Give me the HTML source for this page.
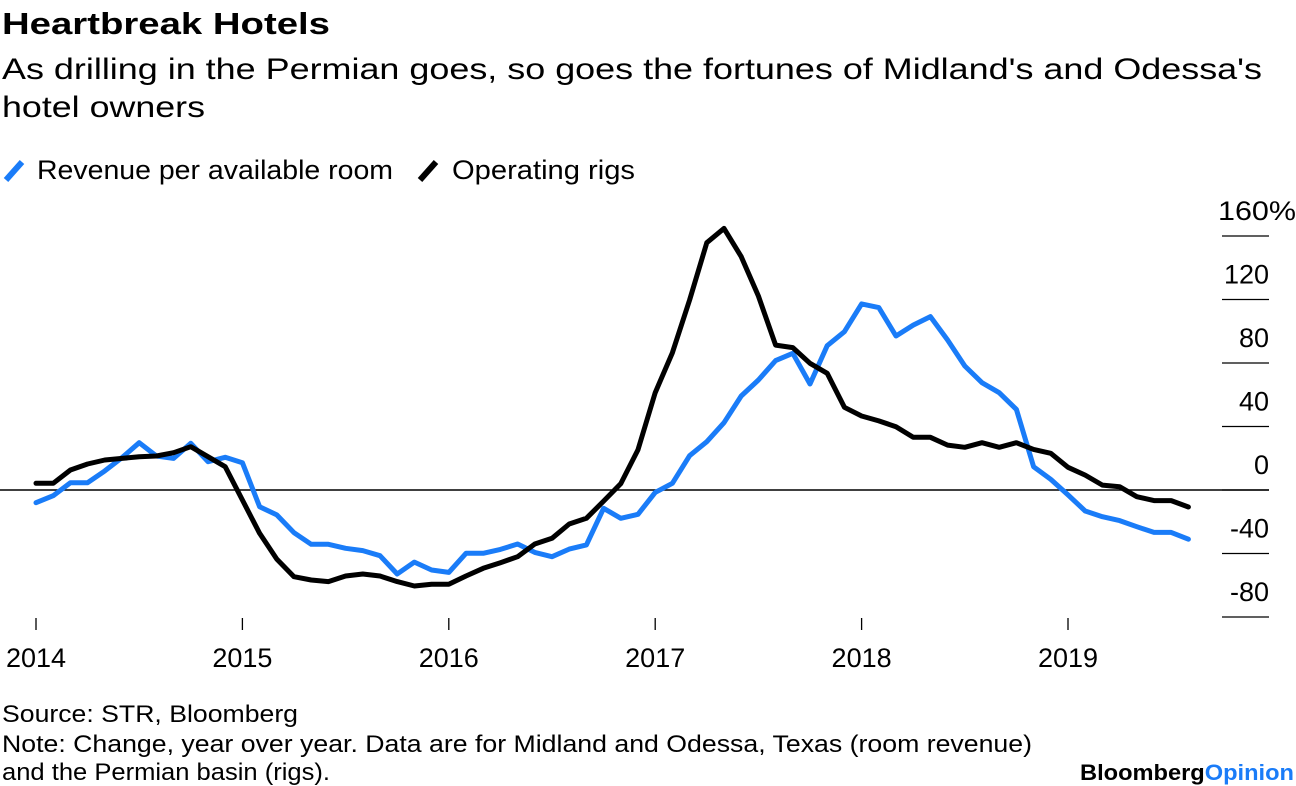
<!DOCTYPE html>
<html><head><meta charset="utf-8">
<style>
body{margin:0;width:1296px;height:786px;background:#fff;overflow:hidden;font-family:"Liberation Sans",Arial,sans-serif;color:#000}
svg{position:absolute;left:0;top:0}
</style></head>
<body>
<svg width="1296" height="786">
<text x="2" y="34" font-size="31" font-weight="bold" textLength="328" lengthAdjust="spacingAndGlyphs">Heartbreak Hotels</text>
<text x="2" y="79" font-size="30" textLength="1260" lengthAdjust="spacingAndGlyphs">As drilling in the Permian goes, so goes the fortunes of Midland's and Odessa's</text>
<text x="2" y="117" font-size="30" textLength="203" lengthAdjust="spacingAndGlyphs">hotel owners</text>
<g>
<line x1="6" y1="180" x2="22" y2="162" stroke="#1a7cf8" stroke-width="6"/>
<text x="37" y="179" font-size="27" textLength="356" lengthAdjust="spacingAndGlyphs">Revenue per available room</text>
<line x1="420" y1="180" x2="436" y2="162" stroke="#000" stroke-width="6"/>
<text x="452" y="179" font-size="27" textLength="183" lengthAdjust="spacingAndGlyphs">Operating rigs</text>
</g>
<g id="axes"></g>
<g id="series"></g>
<text x="2" y="722" font-size="24" textLength="296" lengthAdjust="spacingAndGlyphs">Source: STR, Bloomberg</text>
<text x="2" y="752" font-size="24" textLength="1030" lengthAdjust="spacingAndGlyphs">Note: Change, year over year. Data are for Midland and Odessa, Texas (room revenue)</text>
<text x="2" y="780" font-size="24" textLength="328" lengthAdjust="spacingAndGlyphs">and the Permian basin (rigs).</text>
<text x="1080" y="780" font-size="22" font-weight="bold" textLength="214" lengthAdjust="spacingAndGlyphs">Bloomberg<tspan fill="#1a7cf8">Opinion</tspan></text>
</svg>
<script>
const years = [2014, 2015, 2016, 2017, 2018, 2019];
const yTicks = [160, 120, 80, 40, 0, -40, -80];
const revpar = [-8.0,-3.6,4.6,4.6,12.0,20.4,29.8,21.4,19.9,29.4,17.8,20.6,
17.2,-10.5,-15.7,-26.9,-34.2,-34.2,-36.7,-38.2,-41.4,-52.9,-45.4,-50.4,
-51.9,-39.9,-39.9,-37.4,-34.0,-39.3,-42.0,-37.2,-34.6,-11.5,-17.8,-15.3,
-1.5,4.2,21.6,30.4,42.4,59.2,69.3,81.5,86.1,66.8,90.9,99.7,
117.2,114.9,97.0,103.9,109.2,94.5,78.1,67.6,61.3,50.8,14.7,6.7,
-3.1,-13.2,-16.8,-19.3,-23.1,-26.7,-26.7,-31];
const rigs = [4.2,4.2,12.6,16.4,18.9,19.9,21.0,21.4,23.5,27.3,21.0,14.7,
-6.3,-27.3,-43.5,-54.6,-56.7,-57.7,-54.2,-52.9,-54.2,-57.7,-60.5,-59.4,
-59.4,-54.2,-49.3,-45.8,-42.0,-34.0,-30.4,-21.4,-17.8,-7,4,25.4,
61.3,86.5,119.7,155.8,164.8,147,122.2,91.3,89.7,79.8,73.5,52.1,
46.6,43.5,39.9,33.2,33.2,28.3,26.9,29.8,26.9,29.8,25.6,23.1,
14.3,9.4,3.1,2.1,-4.2,-6.7,-6.7,-10.7];

const NS = "http://www.w3.org/2000/svg";
const x0 = 36, perYear = 206.4;
function xMonth(i){ return x0 + i * perYear / 12; }
function xYear(y){ return x0 + (y - 2014) * perYear; }
function yVal(v){ return 490 - v * 1.5875; }
function mk(tag, attrs, parent){ const e = document.createElementNS(NS, tag); for (const k in attrs) e.setAttribute(k, attrs[k]); parent.appendChild(e); return e; }

const axes = document.getElementById('axes');
yTicks.forEach(t => {
  const l = mk('line', {x1:1222, x2:1269, y1:yVal(t), y2:yVal(t), stroke:'#000', 'stroke-width':1.3}, axes);
  
  
  const tx = mk('text', {x:1269, y:yVal(t) - 16, 'font-size':27, 'text-anchor':'end'}, axes);
  tx.textContent = t;
  if (t === 160) { const s = mk('tspan', {}, tx); s.textContent = '%'; tx.setAttribute('text-anchor','start'); tx.setAttribute('x', 1218); tx.setAttribute('textLength', 78); tx.setAttribute('lengthAdjust','spacingAndGlyphs'); }
  
  
});
const zl = mk('line', {x1:0, x2:1269, y1:yVal(0), y2:yVal(0), stroke:'#000', 'stroke-width':1.5}, axes);


years.forEach(y => {
  const l = mk('line', {x1:xYear(y), x2:xYear(y), y1:618, y2:630, stroke:'#000', 'stroke-width':1.3}, axes);
  
  
  const tx = mk('text', {x:xYear(y), y:667, 'font-size':27, 'text-anchor':'middle'}, axes);
  tx.textContent = y;
  
  
});

const ser = document.getElementById('series');
function line(data, color, name){
  const d = data.map((v,i) => (i ? 'L' : 'M') + xMonth(i).toFixed(1) + ',' + yVal(v).toFixed(1)).join('');
  const p = mk('path', {d:d, fill:'none', stroke:color, 'stroke-width':5, 'stroke-linejoin':'round', 'stroke-linecap':'round'}, ser);
  
  
}
line(revpar, '#1a7cf8', 'revpar-line');
line(rigs, '#000', 'rigs-line');
</script>
</body></html>
